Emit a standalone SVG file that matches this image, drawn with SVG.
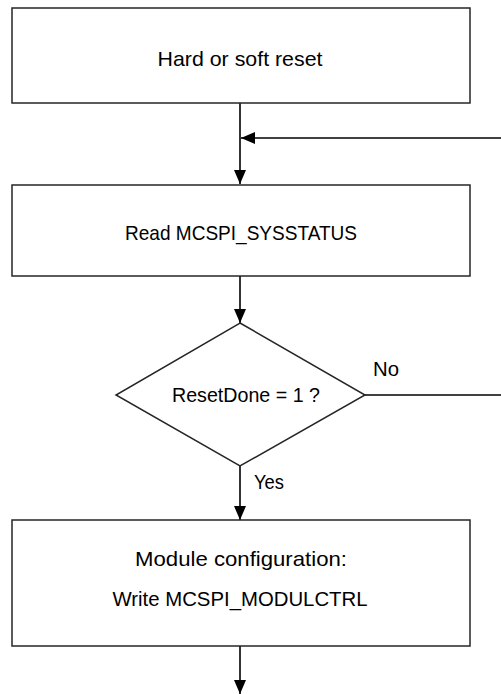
<svg xmlns="http://www.w3.org/2000/svg" width="501" height="694" viewBox="0 0 501 694">
<style>
.box{fill:#fff;stroke:#262626;stroke-width:1.5}
.ln{fill:none;stroke:#000;stroke-width:1.6}
text{font-family:"Liberation Sans",Arial,sans-serif;font-size:21px;fill:#000}
.c{text-anchor:middle}
</style>
<defs>
<marker id="ah" markerUnits="userSpaceOnUse" markerWidth="14" markerHeight="12" refX="14" refY="6" orient="auto">
<path d="M0,0 L14,6 L0,12 z" fill="#000"/>
</marker>
</defs>
<rect width="501" height="694" fill="#fff"/>
<g id="connectors">
<line class="ln" x1="240" y1="100" x2="240" y2="184" marker-end="url(#ah)"/>
<line class="ln" x1="501" y1="138" x2="241" y2="138" marker-end="url(#ah)"/>
<line class="ln" x1="240" y1="276" x2="240" y2="323" marker-end="url(#ah)"/>
<line class="ln" x1="365" y1="395" x2="501" y2="395"/>
<line class="ln" x1="240" y1="466" x2="240" y2="520" marker-end="url(#ah)"/>
<line class="ln" x1="240" y1="646" x2="240" y2="694" marker-end="url(#ah)"/>
<text x="373" y="376" textLength="26" lengthAdjust="spacingAndGlyphs">No</text>
<text x="254" y="489" textLength="30" lengthAdjust="spacingAndGlyphs">Yes</text>
</g>
<g id="reset">
<rect class="box" x="12" y="8" width="458" height="95"/>
<text class="c" x="240" y="66" textLength="165" lengthAdjust="spacingAndGlyphs">Hard or soft reset</text>
</g>
<g id="read">
<rect class="box" x="12" y="185" width="458" height="91"/>
<text class="c" x="241" y="240" textLength="232" lengthAdjust="spacingAndGlyphs">Read MCSPI_SYSSTATUS</text>
</g>
<g id="decision">
<polygon class="box" points="240,323 365,395 240,466 116,395"/>
<text class="c" x="246" y="402" textLength="148" lengthAdjust="spacingAndGlyphs">ResetDone = 1 ?</text>
</g>
<g id="config">
<rect class="box" x="12" y="520" width="458" height="126"/>
<text class="c" x="241" y="566" textLength="212" lengthAdjust="spacingAndGlyphs">Module configuration:</text>
<text class="c" x="240" y="606" textLength="255" lengthAdjust="spacingAndGlyphs">Write MCSPI_MODULCTRL</text>
</g>
</svg>
